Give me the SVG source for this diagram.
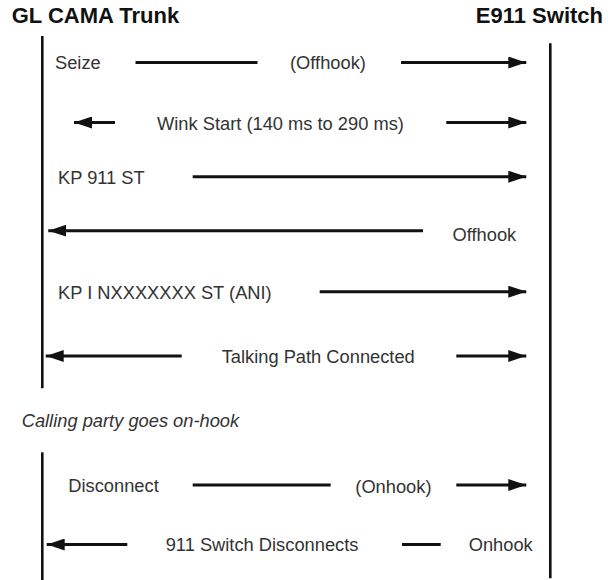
<svg xmlns="http://www.w3.org/2000/svg" width="608" height="580" viewBox="0 0 608 580">
  <style>
    .title { font-family: "Liberation Sans", Arial, sans-serif; font-size: 22px; font-weight: bold; fill: #111; }
    .lbl { font-family: "Liberation Sans", Arial, sans-serif; font-size: 18.3px; fill: #333; }
    .note { font-family: "Liberation Sans", Arial, sans-serif; font-size: 18.3px; font-style: italic; fill: #333; }
    .life { stroke: #111; stroke-width: 2.6; fill: none; }
    .msg { stroke: #111; stroke-width: 3; fill: none; }
    .arr { marker-end: url(#ah); }
    .arl { marker-start: url(#ah); }
  </style>
  <defs>
    <marker id="ah" markerUnits="userSpaceOnUse" markerWidth="18" markerHeight="12" refX="18" refY="6" orient="auto-start-reverse">
      <path d="M0,0 L18,6 L0,12 Z" fill="#111"/>
    </marker>
  </defs>
  <rect width="608" height="580" fill="#fff"/>

  <g id="trunk">
    <text class="title" x="11.7" y="23.3">GL CAMA Trunk</text>
    <line class="life" x1="42.3" y1="36" x2="42.3" y2="388.3"/>
    <line class="life" x1="42.3" y1="452.3" x2="42.3" y2="580"/>
  </g>

  <g id="switch">
    <text class="title" x="603" y="23.3" text-anchor="end">E911 Switch</text>
    <line class="life" x1="550.3" y1="43.3" x2="550.3" y2="578.3"/>
  </g>

  <g id="labels">
    <text class="lbl" x="55" y="69">Seize</text>
    <text class="lbl" x="290" y="69">(Offhook)</text>
    <text class="lbl" x="157" y="130">Wink Start (140 ms to 290 ms)</text>
    <text class="lbl" x="58" y="184">KP 911 ST</text>
    <text class="lbl" x="452.5" y="241">Offhook</text>
    <text class="lbl" x="58" y="299">KP I NXXXXXXX ST (ANI)</text>
    <text class="lbl" x="221.7" y="363">Talking Path Connected</text>
    <text class="note" x="21.7" y="427">Calling party goes on-hook</text>
    <text class="lbl" x="68.3" y="492">Disconnect</text>
    <text class="lbl" x="355.3" y="492.5">(Onhook)</text>
    <text class="lbl" x="165.7" y="551">911 Switch Disconnects</text>
    <text class="lbl" x="468.7" y="550.7">Onhook</text>
  </g>

  <g id="connectors">
    <line class="msg" x1="135.5" y1="62.5" x2="257.5" y2="62.5"/>
    <line class="msg arr" x1="401" y1="62.5" x2="526.3" y2="62.5"/>
    <line class="msg arl" x1="74" y1="122.5" x2="115" y2="122.5"/>
    <line class="msg arr" x1="446.3" y1="122.5" x2="526.3" y2="122.5"/>
    <line class="msg arr" x1="192.7" y1="176.7" x2="526.3" y2="176.7"/>
    <line class="msg arl" x1="48.3" y1="230.7" x2="423" y2="230.7"/>
    <line class="msg arr" x1="319.7" y1="291.7" x2="526.3" y2="291.7"/>
    <line class="msg arl" x1="45.7" y1="356" x2="181.7" y2="356"/>
    <line class="msg arr" x1="456.3" y1="356" x2="526.3" y2="356"/>
    <line class="msg" x1="192.7" y1="485" x2="330.7" y2="485"/>
    <line class="msg arr" x1="456.3" y1="485" x2="526.3" y2="485"/>
    <line class="msg arl" x1="46.7" y1="544.5" x2="127.3" y2="544.5"/>
    <line class="msg" x1="402" y1="544.5" x2="440.7" y2="544.5"/>
  </g>
</svg>
